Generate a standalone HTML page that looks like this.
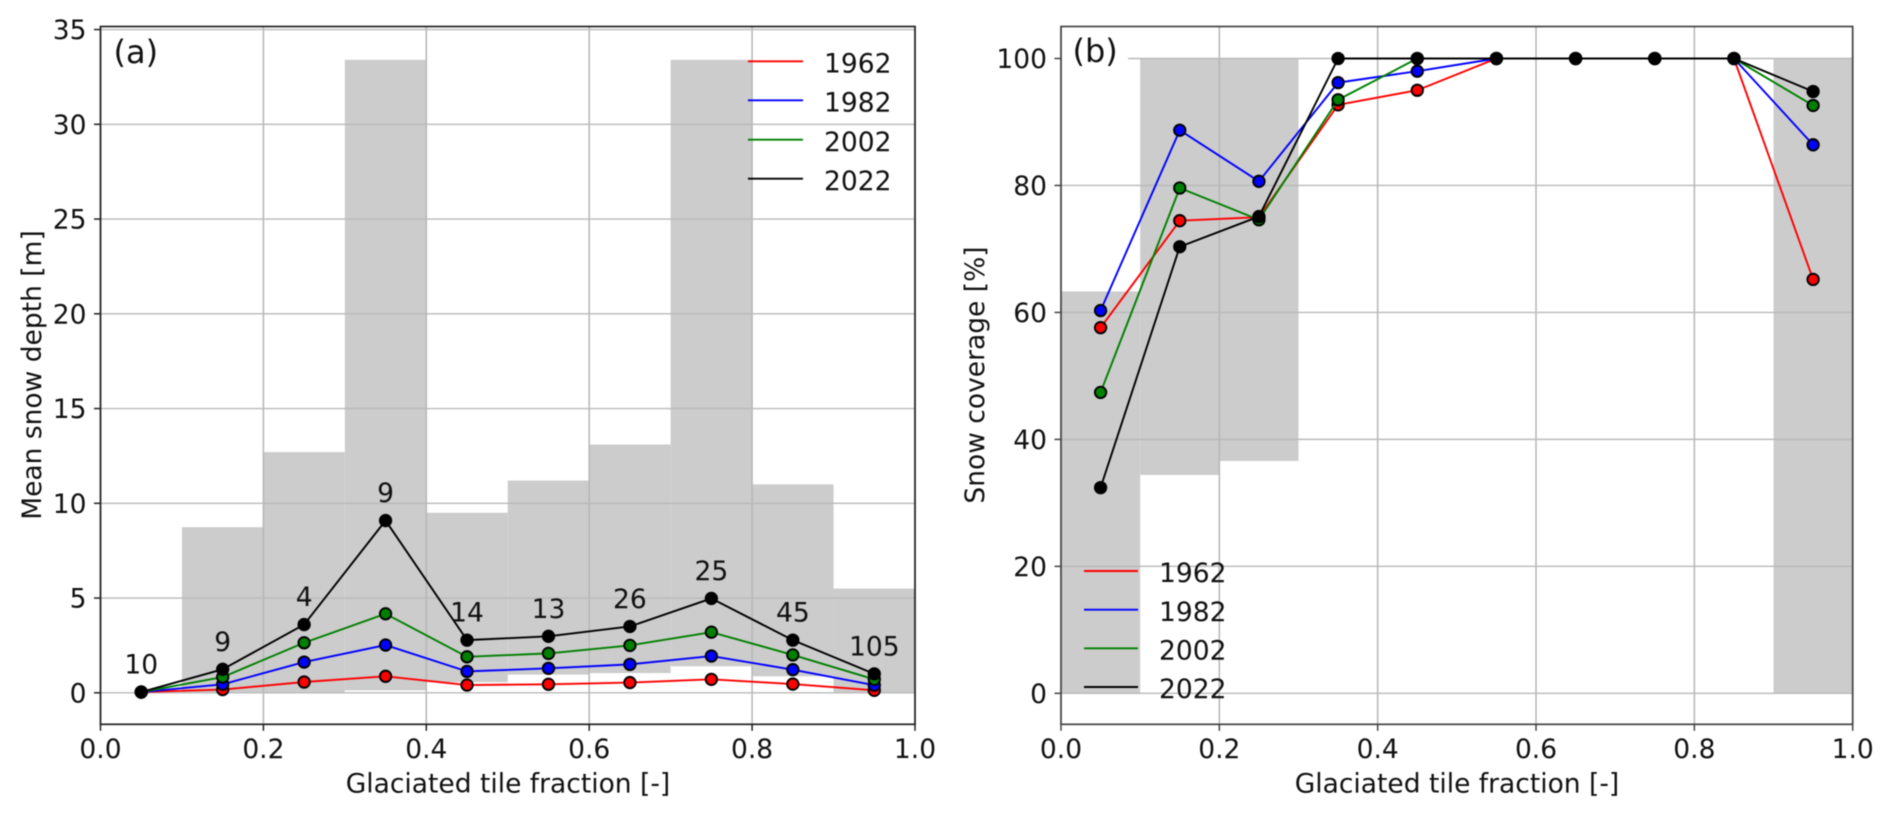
<!DOCTYPE html>
<html lang="en">
<head>
<meta charset="utf-8">
<title>Mean snow depth and snow coverage by glaciated tile fraction</title>
<style>
html,body{margin:0;padding:0;background:#fff;width:1892px;height:817px;overflow:hidden}
svg{display:block;font-family:"DejaVu Sans","Liberation Sans",sans-serif;fill:#111111;filter:blur(.45px)}
</style>
</head>
<body>
<svg id="figure" xmlns="http://www.w3.org/2000/svg" width="1892" height="817" viewBox="0 0 1892 817">
  <rect x="0" y="0" width="1892" height="817" fill="#ffffff"/>
  <g id="panelA"></g>
  <g id="panelB"></g>
</svg>
<script>
const years = ['1962', '1982', '2002', '2022'];
const seriesColors = ['#ff0000', '#0000ff', '#008000', '#000000'];
const binCenters = [0.05, 0.15, 0.25, 0.35, 0.45, 0.55, 0.65, 0.75, 0.85, 0.95];
const binWidth = 0.1;
const tileCounts = ['10', '9', '4', '9', '14', '13', '26', '25', '45', '105'];

const depth1962 = [0.04, 0.17, 0.57, 0.87, 0.41, 0.45, 0.54, 0.71, 0.46, 0.13];
const depth1982 = [0.04, 0.45, 1.62, 2.52, 1.13, 1.29, 1.50, 1.94, 1.22, 0.40];
const depth2002 = [0.04, 0.83, 2.64, 4.17, 1.90, 2.08, 2.50, 3.20, 2.00, 0.71];
const depth2022 = [0.04, 1.24, 3.60, 9.09, 2.78, 2.98, 3.50, 4.98, 2.78, 1.00];
const depthBarLow = [0, 0.03, 0.03, 0.13, 0.56, 0.96, 1.04, 1.40, 0.87, 0.03];
const depthBarHigh = [0, 8.74, 12.7, 33.4, 9.5, 11.2, 13.1, 33.4, 11.0, 5.5];

const cover1962 = [57.6, 74.45, 75.0, 92.7, 95.0, 100, 100, 100, 100, 65.2];
const cover1982 = [60.3, 88.7, 80.65, 96.2, 98.0, 100, 100, 100, 100, 86.4];
const cover2002 = [47.4, 79.6, 74.6, 93.5, 100, 100, 100, 100, 100, 92.6];
const cover2022 = [32.4, 70.35, 75.1, 100, 100, 100, 100, 100, 100, 94.8];
const coverBarLow = [0, 34.4, 36.6, 100, 100, 100, 100, 100, 100, 0];
const coverBarHigh = [63.3, 100, 100, 100, 100, 100, 100, 100, 100, 100];

const xTicks = [0, 0.2, 0.4, 0.6, 0.8, 1.0];
const xTickLabels = ['0.0', '0.2', '0.4', '0.6', '0.8', '1.0'];
const depthTicks = [0, 5, 10, 15, 20, 25, 30, 35];
const depthTickLabels = ['0', '5', '10', '15', '20', '25', '30', '35'];
const coverTicks = [0, 20, 40, 60, 80, 100];
const coverTickLabels = ['0', '20', '40', '60', '80', '100'];

const NS = 'http://www.w3.org/2000/svg';
const TOP = 26.5, BOTTOM = 724.3;
const FONT = 26.5;

function xA(v) { return 100.5 + v * 814.5; }
function yA(v) { return 692.8 - v * 18.95; }
function xB(v) { return 1061 + v * 791.7; }
function yB(v) { return 693.3 - v * 6.348; }

function make(tag, attrs, parent) {
  const node = document.createElementNS(NS, tag);
  for (const k in attrs) node.setAttribute(k, attrs[k]);
  parent.appendChild(node);
  return node;
}

function drawBars(g, low, high, x, y) {
  binCenters.forEach(function (c, i) {
    const left = x(c - binWidth / 2), right = x(c + binWidth / 2);
    const el = make('rect', { x: left, y: y(high[i]), width: right - left, height: Math.max(0, y(low[i]) - y(high[i])), fill: '#cccccc' }, g);
    
    
  });
}

function drawGrid(g, x, y, yTicks, left, right) {
  xTicks.forEach(function (t) {
    const el = make('line', { x1: x(t), x2: x(t), y1: TOP, y2: BOTTOM, stroke: '#b6b6b6', 'stroke-width': 1.5 }, g);
    
    
  });
  yTicks.forEach(function (t) {
    const el = make('line', { x1: left, x2: right, y1: y(t), y2: y(t), stroke: '#b9b9b9', 'stroke-width': 1.4 }, g);
    
    
  });
}

function drawSeries(g, values, color, x, y) {
  const pts = values.map(function (v, i) { return x(binCenters[i]) + ',' + y(v); }).join(' ');
  const line = make('polyline', { points: pts, fill: 'none', stroke: color, 'stroke-width': 1.9, 'stroke-linejoin': 'round' }, g);
  
  
  values.forEach(function (v, i) {
    const dot = make('circle', { cx: x(binCenters[i]), cy: y(v), r: 5.7, fill: color, stroke: '#000000', 'stroke-width': 1.9 }, g);
    
    
  });
}

function drawAxes(g, x, y, yTicks, yLabels, left, right, spine, yTitle, yTitleX, xTitleX) {
  const frame = make('rect', { x: left, y: TOP, width: right - left, height: BOTTOM - TOP, fill: 'none', stroke: spine, 'stroke-width': 1.7 }, g);
  
  
  xTicks.forEach(function (t, i) {
    const tick = make('line', { x1: x(t), x2: x(t), y1: BOTTOM, y2: BOTTOM + 6.5, stroke: spine, 'stroke-width': 1.5 }, g);
    
    
    const label = make('text', { x: x(t), y: 758, 'text-anchor': 'middle', 'font-size': FONT }, g);
    label.textContent = xTickLabels[i];
    
    
  });
  yTicks.forEach(function (t, i) {
    const tick = make('line', { x1: left - 6.5, x2: left, y1: y(t), y2: y(t), stroke: spine, 'stroke-width': 1.5 }, g);
    
    
    const label = make('text', { x: left - 14, y: y(t) + 9.6, 'text-anchor': 'end', 'font-size': FONT }, g);
    label.textContent = yLabels[i];
    
    
  });
  const xt = make('text', { x: xTitleX, y: 792.5, 'text-anchor': 'middle', 'font-size': FONT }, g);
  xt.textContent = 'Glaciated tile fraction [-]';
  
  
  const yt = make('text', { x: 0, y: 0, 'text-anchor': 'middle', 'font-size': FONT, transform: 'translate(' + yTitleX + ',375) rotate(-90)' }, g);
  yt.textContent = yTitle;
  
  
}

function drawLegend(g, x1, x2, textX, ys) {
  years.forEach(function (year, i) {
    const key = make('line', { x1: x1, x2: x2, y1: ys[i], y2: ys[i], stroke: seriesColors[i], 'stroke-width': 1.9 }, g);
    
    
    const label = make('text', { x: textX, y: ys[i] + 11.2, 'font-size': FONT }, g);
    label.textContent = year;
    
    
  });
}

/* Panel (a) */
const gA = document.getElementById('panelA');
drawBars(gA, depthBarLow, depthBarHigh, xA, yA);
drawGrid(gA, xA, yA, depthTicks, 100.5, 915);
[depth1962, depth1982, depth2002, depth2022].forEach(function (vals, i) {
  drawSeries(gA, vals, seriesColors[i], xA, yA);
});
tileCounts.forEach(function (count, i) {
  const t = make('text', { x: xA(binCenters[i]), y: yA(depth2022[i]) - 18.5, 'text-anchor': 'middle', 'font-size': FONT }, gA);
  t.textContent = count;
  
  
});
drawAxes(gA, xA, yA, depthTicks, depthTickLabels, 100.5, 915, '#222222', 'Mean snow depth [m]', 41, 508);
drawLegend(gA, 748, 803, 824, [61.3, 100.3, 139.7, 178.7]);
const labelA = make('text', { x: 113.5, y: 63, 'font-size': 32 }, gA);
labelA.textContent = '(a)';



/* Panel (b) */
const gB = document.getElementById('panelB');
drawBars(gB, coverBarLow, coverBarHigh, xB, yB);
drawGrid(gB, xB, yB, coverTicks, 1061, 1852.7);
[cover1962, cover1982, cover2002, cover2022].forEach(function (vals, i) {
  drawSeries(gB, vals, seriesColors[i], xB, yB);
});
const labelBox = make('rect', { x: 1062, y: 28, width: 66, height: 34, fill: '#ffffff' }, gB);


drawAxes(gB, xB, yB, coverTicks, coverTickLabels, 1061, 1852.7, '#444444', 'Snow coverage [%]', 984, 1457);
drawLegend(gB, 1084, 1138, 1159, [571, 609.7, 648.3, 687]);
const labelB = make('text', { x: 1072.5, y: 62, 'font-size': 32 }, gB);
labelB.textContent = '(b)';


</script>
</body>
</html>
